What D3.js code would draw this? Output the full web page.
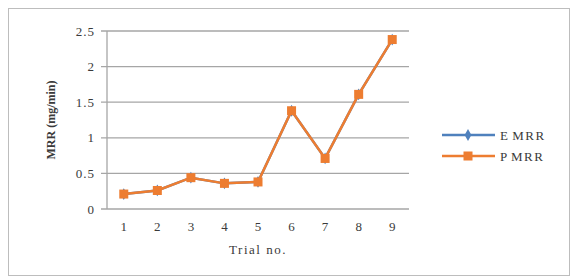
<!DOCTYPE html>
<html>
<head>
<meta charset="utf-8">
<script src="https://cdn.jsdelivr.net/npm/d3@7"></script>
<style>
  body { margin: 0; background: #fff; }
  text { font-family: "Liberation Serif", "Times New Roman", serif; fill: #3a3a3a; }
</style>
</head>
<body>
<div id="chart"></div>
<script>
// chart data
var trials = ["1", "2", "3", "4", "5", "6", "7", "8", "9"];
var eMRR = [0.21, 0.26, 0.44, 0.36, 0.38, 1.38, 0.71, 1.61, 2.38];
var pMRR = [0.21, 0.26, 0.44, 0.36, 0.38, 1.38, 0.71, 1.61, 2.38];
var yTicks = [0, 0.5, 1, 1.5, 2, 2.5];
var seriesNames = ["E MRR", "P MRR"];

var width = 574, height = 279;
var margin = { top: 31, right: 165, bottom: 70, left: 107 };

var svg = d3.select('#chart').append('svg')
  .attr('width', width)
  .attr('height', height);

// outer frame
svg.append('rect')
  .attr('x', 8.5).attr('y', 8.5)
  .attr('width', 561).attr('height', 267)
  .style('fill', '#fff')
  .style('stroke', '#bdbdbd')
  .style('stroke-width', 1);

var plotW = width - margin.left - margin.right;
var plotH = 209 - margin.top;

var x = d3.scaleBand().domain(trials).range([0, plotW]);
var y = d3.scaleLinear().domain([0, 2.5]).range([plotH, 0]);

var plot = svg.append('g')
  .attr('transform', 'translate(' + margin.left + ',' + margin.top + ')');

// gridlines
plot.append('g').selectAll('line')
  .data(yTicks)
  .enter().append('line')
  .attr('x1', -6).attr('x2', plotW)
  .attr('y1', function(d) { return y(d); })
  .attr('y2', function(d) { return y(d); })
  .style('stroke', '#a6a6a6')
  .style('stroke-width', 1.3);

// y axis line
plot.append('line')
  .attr('x1', 0).attr('x2', 0)
  .attr('y1', 0).attr('y2', plotH)
  .style('stroke', '#a6a6a6')
  .style('stroke-width', 1.3);

// y tick labels
plot.append('g').selectAll('text')
  .data(yTicks)
  .enter().append('text')
  .attr('x', -12)
  .attr('y', function(d) { return y(d); })
  .attr('dy', '0.35em')
  .attr('text-anchor', 'end')
  .style('font-size', '13px')
  .style('letter-spacing', '1px')
  .text(function(d) { return d; });

// x tick labels
plot.append('g').selectAll('text')
  .data(trials)
  .enter().append('text')
  .attr('x', function(d) { return x(d) + x.bandwidth() / 2; })
  .attr('y', plotH + 22)
  .attr('text-anchor', 'middle')
  .style('font-size', '13px')
  .text(function(d) { return d; });

// axis titles
plot.append('text')
  .attr('x', plotW / 2)
  .attr('y', plotH + 45)
  .attr('text-anchor', 'middle')
  .style('font-size', '13px')
  .style('letter-spacing', '1.5px')
  .text('Trial no.');

plot.append('text')
  .attr('transform', 'translate(' + (-52) + ',' + (89) + ') rotate(-90)')
  .attr('text-anchor', 'middle')
  .style('font-size', '12px')
  .style('font-weight', 'bold')
  .text('MRR (mg/min)');

var line = d3.line()
  .x(function(d, i) { return x(trials[i]) + x.bandwidth() / 2; })
  .y(function(d) { return y(d); });

var eColor = '#4f81bd', pColor = '#ed7d31';

// E series
plot.append('path')
  .datum(eMRR)
  .attr('d', line)
  .style('fill', 'none')
  .style('stroke', eColor)
  .style('stroke-width', 2.5);

plot.append('g').selectAll('path')
  .data(eMRR)
  .enter().append('path')
  .attr('transform', function(d, i) { return 'translate(' + (x(trials[i]) + x.bandwidth() / 2) + ',' + y(d) + ')'; })
  .attr('d', d3.symbol().type(d3.symbolDiamond).size(40))
  .style('fill', eColor);

// P series
plot.append('path')
  .datum(pMRR)
  .attr('d', line)
  .style('fill', 'none')
  .style('stroke', pColor)
  .style('stroke-width', 2.5);

plot.append('g').selectAll('rect')
  .data(pMRR)
  .enter().append('rect')
  .attr('x', function(d, i) { return x(trials[i]) + x.bandwidth() / 2 - 4.5; })
  .attr('y', function(d) { return y(d) - 4.5; })
  .attr('width', 9).attr('height', 9)
  .style('fill', pColor);

// legend
var legend = svg.append('g').attr('transform', 'translate(442,135)');
var colors = [eColor, pColor];
seriesNames.forEach(function(name, i) {
  var g = legend.append('g').attr('transform', 'translate(0,' + (i * 21) + ')');
  g.append('line')
    .attr('x1', 0).attr('x2', 53)
    .style('stroke', colors[i])
    .style('stroke-width', 2.5);
  if (i == 0) {
    g.append('path')
      .attr('transform', 'translate(26,0)')
      .attr('d', d3.symbol().type(d3.symbolDiamond).size(40))
      .style('fill', colors[i]);
  } else {
    g.append('rect')
      .attr('x', 21.5).attr('y', -4.5)
      .attr('width', 9).attr('height', 9)
      .style('fill', colors[i]);
  }
  g.append('text')
    .attr('x', 58)
    .attr('dy', '0.35em')
    .style('font-size', '13px')
    .style('letter-spacing', '1.5px')
    .style('word-spacing', '-2px')
    .text(name);
});
</script>
</body>
</html>
